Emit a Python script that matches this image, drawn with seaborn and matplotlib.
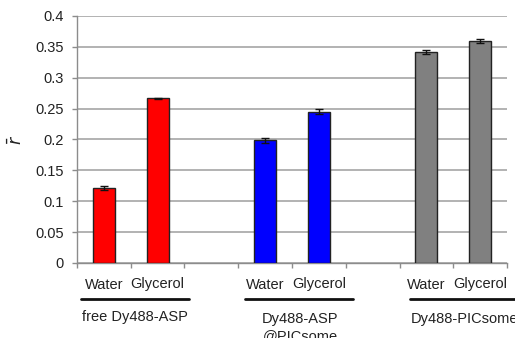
"""Steady-state anisotropy bar chart (free dye vs PICsome)."""

import matplotlib.pyplot as plt
import pandas as pd
import seaborn as sns

slots = ["free_Water", "free_Glycerol", "gap1",
         "asp_Water", "asp_Glycerol", "gap2",
         "pic_Water", "pic_Glycerol"]
bar_names = ["free_Water", "free_Glycerol", "asp_Water", "asp_Glycerol",
             "pic_Water", "pic_Glycerol"]
r_mean = [0.122, 0.267, 0.199, 0.245, 0.342, 0.360]
r_err = [0.003, 0.001, 0.004, 0.004, 0.003, 0.003]
bar_colors = ["#ff0000", "#ff0000", "#0000ff", "#0000ff", "#808080", "#808080"]
solvents = ["Water", "Glycerol", "Water", "Glycerol", "Water", "Glycerol"]
groups = ["free Dy488-ASP", "Dy488-ASP\n@PICsome", "Dy488-PICsome"]
yticks = [0, 0.05, 0.1, 0.15, 0.2, 0.25, 0.3, 0.35, 0.4]

sns.set_theme(style="white")
plt.rcParams["font.family"] = ["Liberation Sans", "DejaVu Sans"]

df = pd.DataFrame({"slot": bar_names, "r": r_mean})

fig = plt.figure(figsize=(5.15, 3.38), dpi=100)
ax = fig.add_axes([0.1495, 0.2219, 0.835, 0.7308])

sns.barplot(data=df, x="slot", y="r", order=slots, hue="slot",
            palette=dict(zip(bar_names, bar_colors)), legend=False,
            saturation=1, width=0.41, edgecolor="#222222", linewidth=1.0,
            errorbar=None, ax=ax, zorder=3)

xpos = [slots.index(n) for n in bar_names]
ax.errorbar(xpos, r_mean, yerr=r_err, fmt="none", ecolor="#111111",
            elinewidth=1.0, capsize=3, capthick=1.0, zorder=4)

ax.set_xlim(-0.5, 7.5)
ax.set_ylim(0, 0.4)
ax.set_yticks(yticks)
ax.set_yticklabels(["0"] + [f"{t:g}" for t in yticks[1:]], fontsize=10.5)
ax.set_xticks([i - 0.5 for i in range(9)])
ax.set_xticklabels([])
ax.set_xlabel("")
ax.set_ylabel(r"$\bar{r}$", fontsize=12.5, color="#222222")
ax.yaxis.set_label_coords(-0.12, 0.5)

ax.yaxis.grid(True, color="#a6a6a6", linewidth=1.2, zorder=0)
ax.set_axisbelow(True)
for side in ["top", "right"]:
    ax.spines[side].set_visible(False)
for side in ["left", "bottom"]:
    ax.spines[side].set_color("#8c8c8c")
    ax.spines[side].set_linewidth(1.0)
ax.tick_params(axis="both", direction="out", length=3.5, width=1.0,
               color="#8c8c8c", left=True, bottom=True)
ax.tick_params(axis="y", pad=6, labelcolor="#222222")

trans = ax.get_xaxis_transform()
for x, s in zip(xpos, solvents):
    y = -0.104 if s == "Water" else -0.1
    ax.text(x, y, s, ha="center", va="baseline", fontsize=10.5,
            color="#222222", transform=trans, clip_on=False)

line_spans = [(-0.43, 1.58), (2.63, 4.64), (5.69, 7.7)]
for x0, x1 in line_spans:
    ax.plot([x0, x1], [-0.146, -0.146], color="#111111", linewidth=2.0,
            transform=trans, clip_on=False)

ax.text(0.58, -0.219, groups[0], ha="center", va="center", fontsize=10.5,
        color="#222222", transform=trans, clip_on=False)
ax.text(3.65, -0.26, groups[1], ha="center", va="center", fontsize=10.5,
        color="#222222", transform=trans, clip_on=False, linespacing=1.3)
ax.text(6.7, -0.225, groups[2], ha="center", va="center", fontsize=10.5,
        color="#222222", transform=trans, clip_on=False)

fig.savefig("out.png", dpi=100)
